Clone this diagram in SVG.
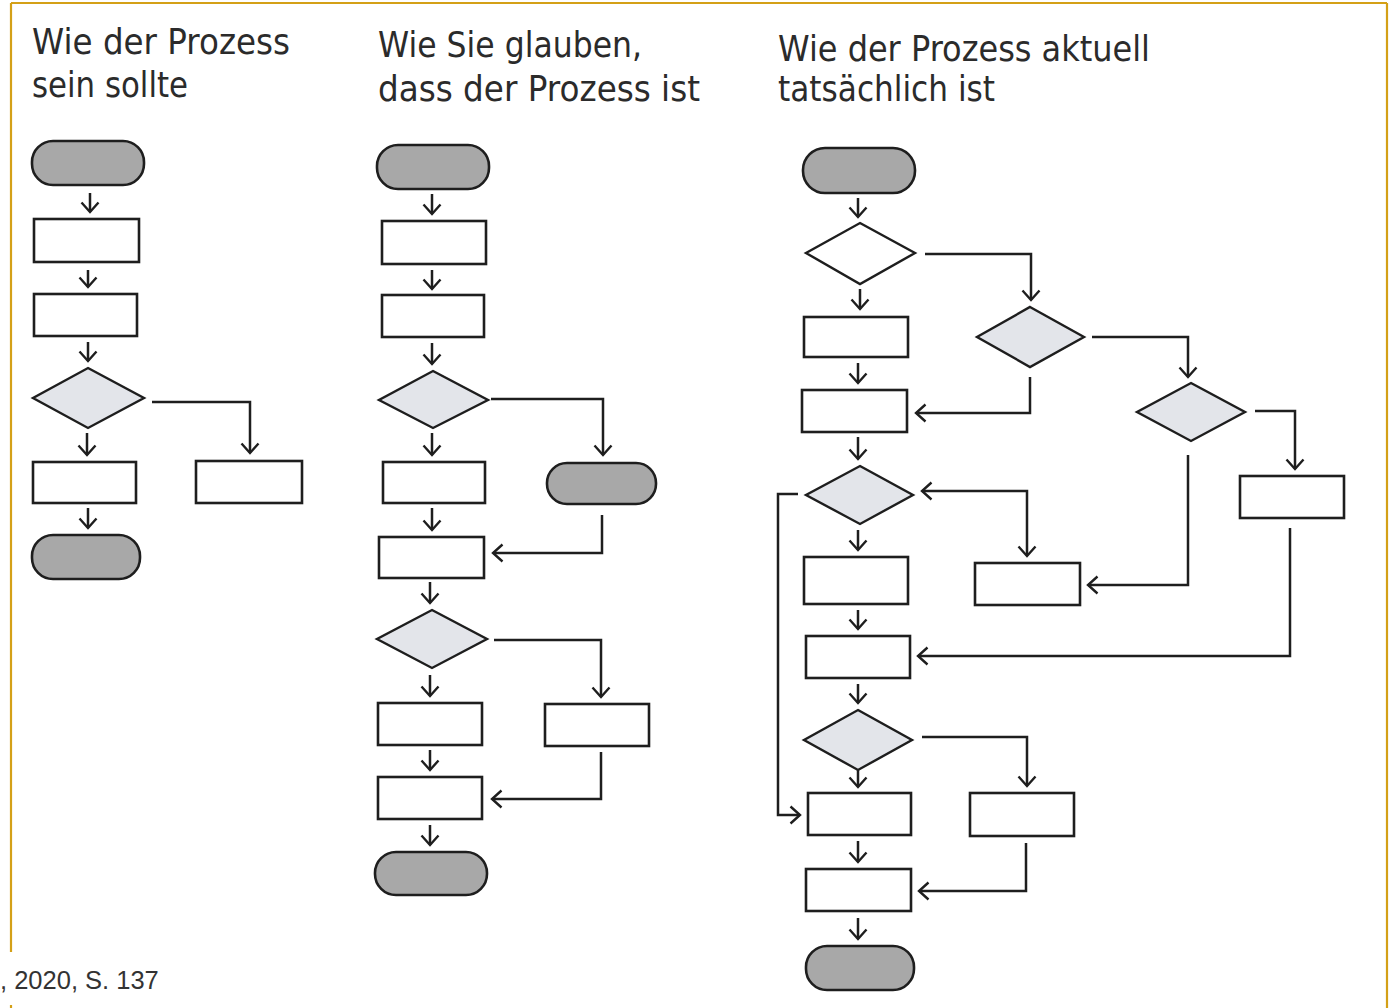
<svg xmlns="http://www.w3.org/2000/svg" width="1389" height="1008" viewBox="0 0 1389 1008">
<defs>
<style>
.t{font-family:"DejaVu Sans","Liberation Sans",sans-serif;font-size:35px;fill:#2b2b2b;}
.cap{font-family:"Liberation Sans",Arial,sans-serif;font-size:25.5px;fill:#333;}
.box{fill:#fff;stroke:#1e1e1e;stroke-width:2.6;}
.term{fill:#a8a8a8;stroke:#1e1e1e;stroke-width:2.6;}
.dec{fill:#e3e5ea;stroke:#1e1e1e;stroke-width:2.4;}
.decw{fill:#fff;stroke:#1e1e1e;stroke-width:2.4;}
.c{fill:none;stroke:#1e1e1e;stroke-width:2.5;marker-end:url(#ah);}
.cs{marker-start:url(#ahs);}
.frame{stroke:#d4a017;stroke-width:2.2;fill:none;}
</style>
<marker id="ah" markerUnits="userSpaceOnUse" markerWidth="22" markerHeight="22" viewBox="0 0 22 22" refX="11" refY="11" orient="auto">
<path d="M1.5,2.5 L11,11 L1.5,19.5" fill="none" stroke="#1e1e1e" stroke-width="2.4"/>
</marker>
<marker id="ahs" markerUnits="userSpaceOnUse" markerWidth="22" markerHeight="22" viewBox="0 0 22 22" refX="11" refY="11" orient="auto-start-reverse">
<path d="M1.5,2.5 L11,11 L1.5,19.5" fill="none" stroke="#1e1e1e" stroke-width="2.4"/>
</marker>
</defs>
<rect x="0" y="0" width="1389" height="1008" fill="#fff"/>
<g id="frame">
<line class="frame" x1="11" y1="3" x2="1387" y2="3"/>
<line class="frame" x1="1387" y1="3" x2="1387" y2="1008"/>
<line class="frame" x1="11" y1="3" x2="11" y2="952"/>
<line class="frame" x1="11" y1="1005" x2="11" y2="1008"/>
</g>
<g id="titles">
<text class="t" x="32" y="54" textLength="258" lengthAdjust="spacingAndGlyphs">Wie der Prozess</text>
<text class="t" x="32" y="97" textLength="156" lengthAdjust="spacingAndGlyphs">sein sollte</text>
<text class="t" x="378" y="57" textLength="264" lengthAdjust="spacingAndGlyphs">Wie Sie glauben,</text>
<text class="t" x="378" y="101" textLength="322" lengthAdjust="spacingAndGlyphs">dass der Prozess ist</text>
<text class="t" x="778" y="61" textLength="372" lengthAdjust="spacingAndGlyphs">Wie der Prozess aktuell</text>
<text class="t" x="778" y="101" textLength="217" lengthAdjust="spacingAndGlyphs">tatsächlich ist</text>
</g>
<text id="caption" class="cap" x="0" y="989">, 2020, S. 137</text>
<g id="connectors">
<path class="c" d="M90,193 V212"/>
<path class="c" d="M88,270 V287"/>
<path class="c" d="M88,342 V361"/>
<path class="c" d="M152,402 H250 V453"/>
<path class="c" d="M87,433 V455"/>
<path class="c" d="M88,508 V528"/>

<path class="c" d="M432,194 V214"/>
<path class="c" d="M432,270 V289"/>
<path class="c" d="M432,343 V364"/>
<path class="c" d="M491,399 H603 V455"/>
<path class="c" d="M432,433 V455"/>
<path class="c" d="M602,515 V553 H493"/>
<path class="c" d="M432,508 V530"/>
<path class="c" d="M430,582 V603"/>
<path class="c" d="M494,640 H601 V697"/>
<path class="c" d="M430,675 V696"/>
<path class="c" d="M430,750 V770"/>
<path class="c" d="M601,752 V799 H492"/>
<path class="c" d="M430,825 V845"/>

<path class="c" d="M858,198 V217"/>
<path class="c" d="M925,254 H1031 V300"/>
<path class="c" d="M860,289 V309"/>
<path class="c" d="M1092,337 H1188 V377"/>
<path class="c" d="M1030,377 V413 H916"/>
<path class="c" d="M858,363 V383"/>
<path class="c" d="M1255,411 H1295 V469"/>
<path class="c" d="M858,437 V459"/>
<path class="c" d="M798,494 H778 V815 H800"/>
<path class="c cs" d="M922,491 H1027 V556"/>
<path class="c" d="M1188,455 V585 H1088"/>
<path class="c" d="M858,530 V550"/>
<path class="c" d="M858,610 V629"/>
<path class="c" d="M1290,528 V656 H918"/>
<path class="c" d="M858,684 V703"/>
<path class="c" d="M922,737 H1027 V786"/>
<path class="c" d="M858,770 V787"/>
<path class="c" d="M858,841 V862"/>
<path class="c" d="M1026,843 V891 H919"/>
<path class="c" d="M858,918 V939"/>
</g>
<g id="c1-start"><rect class="term" x="32" y="141" width="112" height="44" rx="21"/></g>
<g id="c1-r1"><rect class="box" x="34" y="219" width="105" height="43"/></g>
<g id="c1-r2"><rect class="box" x="34" y="294" width="103" height="42"/></g>
<g id="c1-d1"><polygon class="dec" points="88,368 144,398 88,428 33,398"/></g>
<g id="c1-r3"><rect class="box" x="33" y="462" width="103" height="41"/></g>
<g id="c1-r4"><rect class="box" x="196" y="461" width="106" height="42"/></g>
<g id="c1-end"><rect class="term" x="32" y="535" width="108" height="44" rx="21"/></g>

<g id="c2-start"><rect class="term" x="377" y="145" width="112" height="44" rx="21"/></g>
<g id="c2-r1"><rect class="box" x="382" y="221" width="104" height="43"/></g>
<g id="c2-r2"><rect class="box" x="382" y="295" width="102" height="42"/></g>
<g id="c2-d1"><polygon class="dec" points="433,371 488,400 433,428 379,400"/></g>
<g id="c2-r3"><rect class="box" x="383" y="462" width="102" height="41"/></g>
<g id="c2-t2"><rect class="term" x="547" y="463" width="109" height="41" rx="20"/></g>
<g id="c2-r4"><rect class="box" x="379" y="537" width="105" height="41"/></g>
<g id="c2-d2"><polygon class="dec" points="432,610 487,639 432,668 377,639"/></g>
<g id="c2-r5"><rect class="box" x="378" y="703" width="104" height="42"/></g>
<g id="c2-r6"><rect class="box" x="545" y="704" width="104" height="42"/></g>
<g id="c2-r7"><rect class="box" x="378" y="777" width="104" height="42"/></g>
<g id="c2-end"><rect class="term" x="375" y="852" width="112" height="43" rx="21"/></g>

<g id="c3-start"><rect class="term" x="803" y="148" width="112" height="45" rx="22"/></g>
<g id="c3-d1"><polygon class="decw" points="860,223 915,253 860,284 806,253"/></g>
<g id="c3-r1"><rect class="box" x="804" y="317" width="104" height="40"/></g>
<g id="c3-d2"><polygon class="dec" points="1030,307 1084,337 1030,367 977,337"/></g>
<g id="c3-r2"><rect class="box" x="802" y="390" width="105" height="42"/></g>
<g id="c3-d3"><polygon class="dec" points="1191,383 1245,412 1191,441 1137,412"/></g>
<g id="c3-r3"><rect class="box" x="1240" y="476" width="104" height="42"/></g>
<g id="c3-d4"><polygon class="dec" points="860,466 913,495 860,524 806,495"/></g>
<g id="c3-r4"><rect class="box" x="804" y="557" width="104" height="47"/></g>
<g id="c3-r5"><rect class="box" x="975" y="563" width="105" height="42"/></g>
<g id="c3-r6"><rect class="box" x="806" y="636" width="104" height="42"/></g>
<g id="c3-d5"><polygon class="dec" points="858,710 912,740 858,770 804,740"/></g>
<g id="c3-r7"><rect class="box" x="808" y="793" width="103" height="42"/></g>
<g id="c3-r8"><rect class="box" x="970" y="793" width="104" height="43"/></g>
<g id="c3-r9"><rect class="box" x="806" y="869" width="105" height="42"/></g>
<g id="c3-end"><rect class="term" x="806" y="946" width="108" height="44" rx="21"/></g>
</svg>
